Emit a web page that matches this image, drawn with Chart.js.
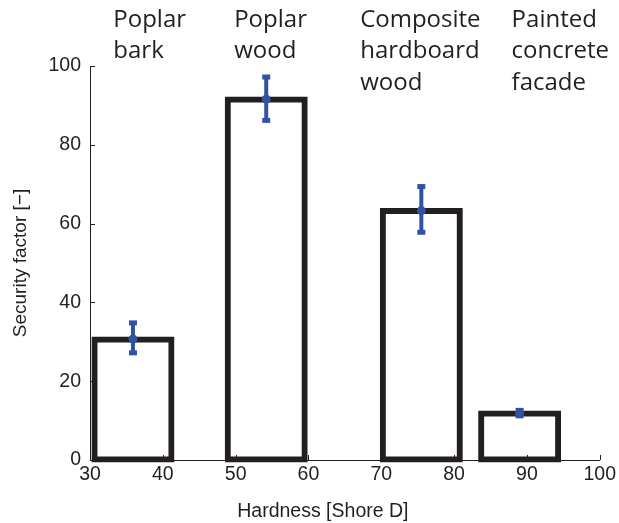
<!DOCTYPE html>
<html>
<head>
<meta charset="utf-8">
<script src="https://cdn.jsdelivr.net/npm/chart.js@4.4.1/dist/chart.umd.min.js"></script>
<style>
  html, body { margin: 0; padding: 0; background: #fff; }
  #wrap { width: 619px; height: 523px; }
</style>
</head>
<body>
<div id="wrap"><canvas id="chart"></canvas></div>
<script>
// Data
const materials = [['Poplar', 'bark'], ['Poplar', 'wood'], ['Composite', 'hardboard', 'wood'], ['Painted', 'concrete', 'facade']];
const hardness = [35.9, 54.2, 75.5, 89.0];
const security = [30.7, 91.6, 63.3, 11.9];
const errLow = [27.2, 86.2, 57.8, 11.2];
const errHigh = [34.8, 97.2, 69.4, 12.6];
const xTicks = [30, 40, 50, 60, 70, 80, 90, 100];
const yTicks = [0, 20, 40, 60, 80, 100];

// Layout / style
const labelX = [33.2, 49.8, 67.1, 87.9]; // left edge of each material label, in hardness units
const INK = '#231f20';
const BLUE = '#3152a3';

const extras = {
    id: 'extras',
    afterDatasetDraw(chart, args) {
        if (args.index !== 0) return;
        const ctx = chart.ctx;
        const x = chart.scales.x, y = chart.scales.y;
        ctx.save();
        ctx.strokeStyle = BLUE;
        ctx.fillStyle = BLUE;
        hardness.forEach((h, i) => {
            const px = x.getPixelForValue(h);
            const top = y.getPixelForValue(errHigh[i]);
            const bot = y.getPixelForValue(errLow[i]);
            ctx.lineWidth = 4;
            ctx.beginPath();
            ctx.moveTo(px, top);
            ctx.lineTo(px, bot);
            ctx.stroke();
            ctx.fillRect(px - 4, top - 2.5, 8, 5);
            ctx.fillRect(px - 4, bot - 2.5, 8, 5);
        });
        ctx.restore();
    },
    afterDraw(chart) {
        const ctx = chart.ctx;
        const x = chart.scales.x, y = chart.scales.y;
        const area = chart.chartArea;
        ctx.save();
        // inward tick marks
        ctx.strokeStyle = INK;
        ctx.lineWidth = 1;
        ctx.beginPath();
        yTicks.forEach(v => {
            const py = Math.round(y.getPixelForValue(v)) + 0.5;
            ctx.moveTo(area.left, py);
            ctx.lineTo(area.left + 5, py);
        });
        xTicks.forEach(v => {
            const px = Math.round(x.getPixelForValue(v)) + 0.5;
            ctx.moveTo(px, area.bottom);
            ctx.lineTo(px, area.bottom - 5);
        });
        ctx.stroke();

        // material labels above the bars
        ctx.fillStyle = INK;
        ctx.font = "24px 'Open Sans'";
        ctx.textAlign = 'left';
        ctx.textBaseline = 'middle';
        materials.forEach((lines, i) => {
            const px = x.getPixelForValue(labelX[i]);
            lines.forEach((t, j) => ctx.fillText(t, px, 20 + j * 31.5));
        });

        // x axis title
        ctx.font = "19.5px 'Liberation Sans', Arial";
        ctx.textAlign = 'center';
        ctx.fillText('Hardness [Shore D]', (area.left + area.right) / 2 - 22, 512);
        ctx.restore();
    }
};

new Chart(document.getElementById('chart'), {
    type: 'bar',
    data: {
        datasets: [{
            type: 'bar',
            data: hardness.map((h, i) => ({ x: h, y: security[i] })),
            backgroundColor: 'rgba(0,0,0,0)',
            borderColor: INK,
            borderWidth: 1,
            inflateAmount: 2.5,
            borderSkipped: false,
            barThickness: 78,
            clip: false,
            order: 1
        }, {
            type: 'scatter',
            data: hardness.map((h, i) => ({ x: h, y: security[i] })),
            pointRadius: 4.5,
            pointBackgroundColor: BLUE,
            pointBorderColor: BLUE,
            pointBorderWidth: 0,
            showLine: false,
            order: 0
        }]
    },
    plugins: [extras],
    options: {
        responsive: true,
        maintainAspectRatio: false,
        animation: false,
        layout: { padding: { top: 66, right: 19, left: 0, bottom: 0 } },
        plugins: {
            legend: { display: false },
            tooltip: { enabled: false }
        },
        scales: {
            x: {
                type: 'linear',
                min: 30,
                max: 100,
                offset: false,
                afterFit: s => { s.height = 63; },
                afterBuildTicks: s => { s.ticks = xTicks.map(v => ({ value: v })); },
                grid: { display: false, drawTicks: false },
                border: { display: true, color: INK, width: 1 },
                ticks: {
                    color: INK,
                    padding: 3,
                    maxRotation: 0,
                    font: { family: "'Liberation Sans', Arial", size: 19.5 }
                }
            },
            y: {
                min: 0,
                max: 100,
                afterFit: s => { s.width = 90; },
                afterBuildTicks: s => { s.ticks = yTicks.map(v => ({ value: v })); },
                grid: { display: false, drawTicks: false },
                border: { display: true, color: INK, width: 1 },
                ticks: {
                    color: INK,
                    padding: 9,
                    font: { family: "'Liberation Sans', Arial", size: 19.5 }
                },
                title: {
                    display: true,
                    text: 'Security factor [−]',
                    color: INK,
                    padding: { top: 9, bottom: 0 },
                    font: { family: "'Liberation Sans', Arial", size: 19 }
                }
            }
        }
    }
});
</script>
</body>
</html>
